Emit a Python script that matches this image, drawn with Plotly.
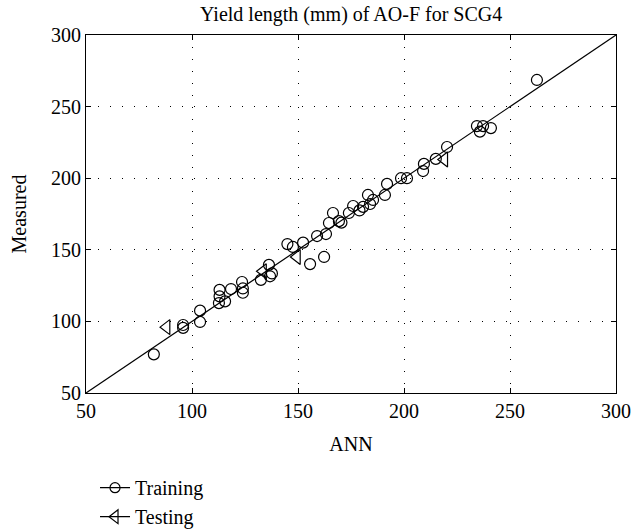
import plotly.graph_objects as go

train_ann = [82, 95.8, 95.8, 103.8, 103.8, 113, 113, 112.7, 115.6, 118.4, 123.6, 124, 124,
             132.5, 136.3, 137.7, 136.8, 145, 147.6, 152.4, 155.7, 162.3, 159, 163.2, 164.6,
             166.5, 169.3, 170.5, 174, 176, 179, 180.7, 183, 185.4, 184, 191, 192, 198.6,
             201.4, 209, 209.4, 215, 220.3, 234.4, 235.8, 237.3, 241, 262.7]
train_meas = [77, 97.5, 95.5, 107.5, 99.6, 122, 117.5, 112.8, 114, 122.6, 127.5, 123, 120,
              129, 139.5, 133.5, 131.5, 154, 152, 155, 140, 145, 159.6, 161, 168.7,
              175.7, 170, 169, 175.7, 180.6, 177.5, 180, 188.3, 184.8, 182, 188.3, 196, 200,
              200, 205, 210, 213.5, 221.8, 236.4, 232.5, 236.4, 235, 268.6]
test_ann = [88, 133.5, 149.5, 219]
test_meas = [96, 135, 145, 213]
diag = [50, 300]
ticks = [50, 100, 150, 200, 250, 300]

FONT = "Liberation Serif"
FS = 20

fig = go.Figure()
fig.add_trace(go.Scatter(x=diag, y=diag, mode="lines", line=dict(color="black", width=1.2),
                         showlegend=False, hoverinfo="skip"))
fig.add_trace(go.Scatter(x=train_ann, y=train_meas, mode="markers", showlegend=False,
                         marker=dict(symbol="circle-open", size=11, color="black",
                                     line=dict(width=1.2, color="black"))))
fig.add_trace(go.Scatter(x=test_ann, y=test_meas, mode="markers", showlegend=False,
                         marker=dict(symbol="triangle-left-open", size=13, color="black",
                                     line=dict(width=1.2, color="black"))))
# legend entries
fig.add_trace(go.Scatter(x=[None], y=[None], mode="lines+markers", name="Training",
                         line=dict(color="black", width=1.2),
                         marker=dict(symbol="circle-open", size=10, color="black",
                                     line=dict(width=1.2, color="black"))))
fig.add_trace(go.Scatter(x=[None], y=[None], mode="lines+markers", name="Testing",
                         line=dict(color="black", width=1.2),
                         marker=dict(symbol="triangle-left-open", size=12, color="black",
                                     line=dict(width=1.2, color="black"))))

axis_common = dict(
    range=[50, 300], tickvals=ticks, showline=True, linecolor="black", linewidth=1.2,
    mirror="ticks", ticks="inside", ticklen=5, tickcolor="black",
    showgrid=True, gridcolor="black", gridwidth=1, griddash="1px,11px",
    zeroline=False, tickfont=dict(family=FONT, size=FS, color="black"),
)

fig.update_layout(
    width=643, height=529,
    margin=dict(l=86, r=27, t=35, b=136, autoexpand=False),
    paper_bgcolor="white", plot_bgcolor="white",
    font=dict(family=FONT, color="black", size=FS),
    title=dict(text="Yield length (mm) of AO-F for SCG4", x=0.5461, xanchor="center",
               y=1 - 14 / 529, yanchor="middle", font=dict(family=FONT, size=FS)),
    xaxis=dict(axis_common, title=dict(text="ANN", font=dict(family=FONT, size=FS), standoff=15)),
    yaxis=dict(axis_common, title=dict(text="Measured", font=dict(family=FONT, size=FS), standoff=18)),
    legend=dict(x=0.017, y=-0.21, xanchor="left", yanchor="top", orientation="v",
                font=dict(family=FONT, size=FS), bgcolor="rgba(0,0,0,0)", tracegroupgap=0,
                itemsizing="trace"),
    showlegend=True,
)

fig.write_html("out.html")
